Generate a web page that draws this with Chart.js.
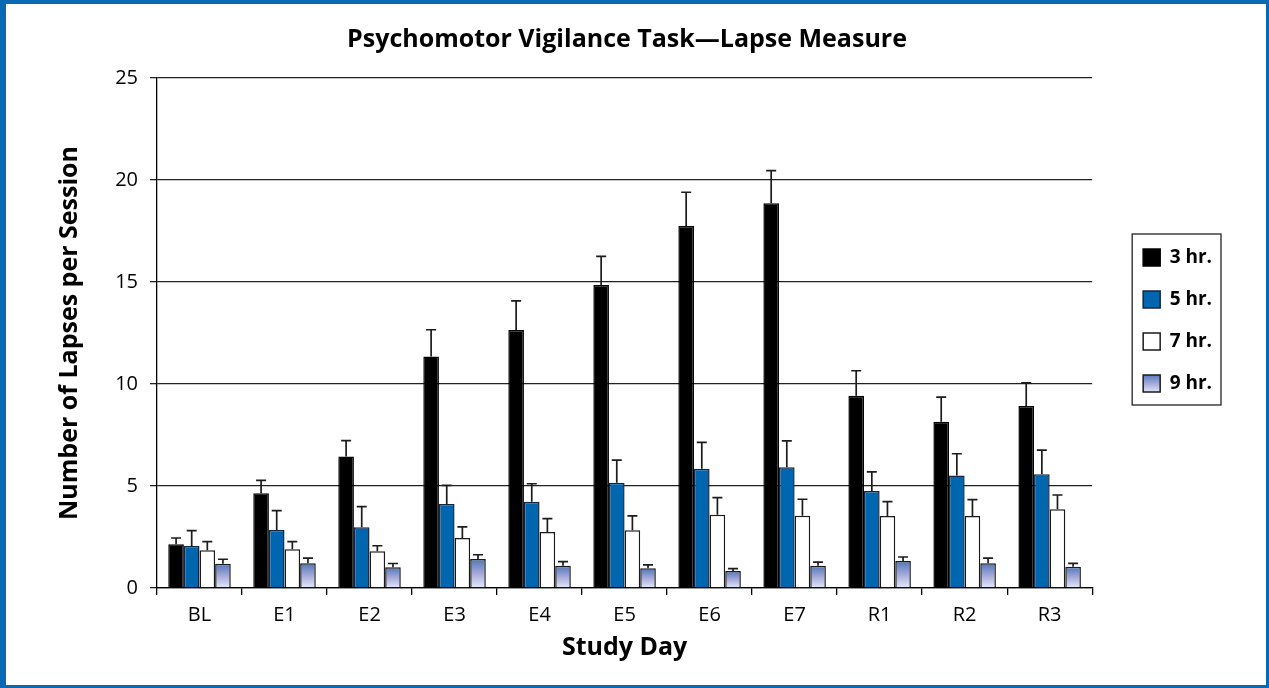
<!DOCTYPE html>
<html>
<head>
<meta charset="utf-8">
<script src="https://cdn.jsdelivr.net/npm/chart.js@4.4.0/dist/chart.umd.min.js"></script>
<style>
  html, body { margin: 0; padding: 0; background: #fff; }
  #frame {
    position: absolute; left: 0; top: 0;
    width: 1260px; height: 681px;
    border-style: solid; border-color: #0a69b5;
    border-width: 4px 3px 3px 6px;
    background: #fff;
  }
  canvas { display: block; }
</style>
</head>
<body>
<div id="frame"><canvas id="pvtChart" width="1260" height="681"></canvas></div>
<script>
const days = ['BL', 'E1', 'E2', 'E3', 'E4', 'E5', 'E6', 'E7', 'R1', 'R2', 'R3'];
const seriesNames = ['3 hr.', '5 hr.', '7 hr.', '9 hr.'];

// mean lapses per session
const lapses3 = [2.15, 4.64, 6.44, 11.35, 12.65, 14.85, 17.75, 18.86, 9.43, 8.15, 8.92];
const lapses5 = [2.06, 2.84, 2.98, 4.12, 4.23, 5.16, 5.85, 5.92, 4.75, 5.51, 5.58];
const lapses7 = [1.85, 1.90, 1.80, 2.45, 2.75, 2.83, 3.59, 3.54, 3.53, 3.53, 3.86];
const lapses9 = [1.19, 1.21, 1.02, 1.42, 1.09, 0.97, 0.83, 1.09, 1.32, 1.21, 1.04];

// standard error (upper bar only)
const err3 = [0.30, 0.64, 0.78, 1.31, 1.42, 1.41, 1.65, 1.60, 1.22, 1.21, 1.14];
const err5 = [0.75, 0.95, 1.01, 0.91, 0.88, 1.11, 1.29, 1.29, 0.94, 1.07, 1.18];
const err7 = [0.42, 0.37, 0.27, 0.55, 0.65, 0.71, 0.84, 0.81, 0.70, 0.80, 0.70];
const err9 = [0.22, 0.25, 0.18, 0.21, 0.20, 0.16, 0.12, 0.18, 0.20, 0.25, 0.17];

const yTicks = [0, 5, 10, 15, 20, 25];

const FONT = "'Open Sans', 'Noto Sans', sans-serif";

function nineFill(c) {
    const chart = c.chart;
    if (c.type !== 'data' || !chart.chartArea || !c.parsed) return '#9ea9da';
    const y = chart.scales.y;
    const top = y.getPixelForValue(c.parsed.y);
    const base = y.getPixelForValue(0);
    const g = chart.ctx.createLinearGradient(0, top, 0, base);
    g.addColorStop(0, '#4f76bb');
    g.addColorStop(0.5, '#a6a9d9');
    g.addColorStop(1, '#e3eafc');
    return g;
}

const errorBars = {
    id: 'errorBars',
    afterDatasetsDraw(chart) {
        const ctx = chart.ctx;
        const y = chart.scales.y;
        ctx.save();
        ctx.strokeStyle = '#1c1c1c';
        ctx.lineWidth = 1.7;
        chart.data.datasets.forEach((ds, i) => {
            const meta = chart.getDatasetMeta(i);
            meta.data.forEach((bar, j) => {
                const yTop = y.getPixelForValue(ds.data[j] + ds.errors[j]);
                ctx.beginPath();
                ctx.moveTo(bar.x, bar.y);
                ctx.lineTo(bar.x, yTop);
                ctx.moveTo(bar.x - 5, yTop);
                ctx.lineTo(bar.x + 5, yTop);
                ctx.stroke();
            });
        });
        ctx.restore();
    }
};

// legend sits away from the plot, in a box
const legendFrame = {
    id: 'legendFrame',
    afterLayout(chart) {
        const lg = chart.legend;
        lg.left += 28; lg.right += 28;
        lg.top -= 24; lg.bottom -= 24;
    },
    beforeDraw(chart) {
        const lg = chart.legend;
        const hb = lg.legendHitBoxes[3];
        if (!hb) return;
        const g = chart.ctx.createLinearGradient(0, hb.top, 0, hb.top + hb.height);
        g.addColorStop(0, '#4f76bb');
        g.addColorStop(0.5, '#a6a9d9');
        g.addColorStop(1, '#e3eafc');
        lg.legendItems[3].fillStyle = g;
    },
    afterDraw(chart) {
        const lg = chart.legend;
        const boxes = lg.legendHitBoxes;
        if (!boxes.length) return;
        const x0 = Math.min(...boxes.map(b => b.left)) - 11;
        const x1 = Math.max(...boxes.map(b => b.left + b.width)) + 9;
        const y0 = boxes[0].top - 14;
        const y1 = boxes[boxes.length - 1].top + boxes[boxes.length - 1].height + 12;
        const ctx = chart.ctx;
        ctx.save();
        ctx.strokeStyle = '#222';
        ctx.lineWidth = 1.3;
        ctx.strokeRect(x0, y0, x1 - x0, y1 - y0);
        ctx.restore();
    }
};

const ctx = document.getElementById('pvtChart').getContext('2d');
new Chart(ctx, {
    type: 'bar',
    data: {
        labels: days,
        datasets: [
            { label: seriesNames[0], data: lapses3, errors: err3, backgroundColor: '#000000', borderColor: '#000000' },
            { label: seriesNames[1], data: lapses5, errors: err5, backgroundColor: '#0066b0', borderColor: '#15253f' },
            { label: seriesNames[2], data: lapses7, errors: err7, backgroundColor: '#ffffff', borderColor: '#1a1a1a' },
            { label: seriesNames[3], data: lapses9, errors: err9, backgroundColor: nineFill, borderColor: '#1a1a1a' }
        ]
    },
    options: {
        responsive: false,
        animation: false,
        devicePixelRatio: 1,
        datasets: {
            bar: { borderWidth: 1.5, barPercentage: 1, categoryPercentage: 0.735 }
        },
        layout: { padding: { left: 54, right: 72, top: 0, bottom: 0 } },
        plugins: {
            title: {
                display: true,
                text: 'Psychomotor Vigilance Task\u2014Lapse Measure',
                color: '#000',
                font: { family: FONT, size: 25, weight: 'bold' },
                padding: { top: 21, bottom: 23 }
            },
            legend: {
                position: 'right',
                labels: {
                    color: '#000',
                    font: { family: FONT, size: 19, weight: 'bold' },
                    boxWidth: 17,
                    boxHeight: 17,
                    padding: 23
                }
            },
            tooltip: { enabled: false }
        },
        scales: {
            x: {
                afterFit(scale) { scale.height = 97; },
                grid: { display: true, drawOnChartArea: false, tickLength: 7, color: '#000', lineWidth: 1.3 },
                border: { color: '#000', width: 1.3 },
                ticks: { color: '#000', padding: 8, font: { family: FONT, size: 20 } },
                title: {
                    display: true, text: 'Study Day', color: '#000',
                    font: { family: FONT, size: 25, weight: 'bold' },
                    padding: { top: 0, bottom: 22 }
                }
            },
            y: {
                min: 0, max: 25,
                afterFit(scale) { scale.width = 97; },
                afterBuildTicks(scale) { scale.ticks = yTicks.map(v => ({ value: v })); },
                grid: { color: '#222', lineWidth: 1.3, tickLength: 7 },
                border: { color: '#000', width: 1.3 },
                ticks: { color: '#000', padding: 12, font: { family: FONT, size: 20 } },
                title: {
                    display: true, text: 'Number of Lapses per Session', color: '#000',
                    font: { family: FONT, size: 25, weight: 'bold' },
                    padding: { top: -5, bottom: 0 }
                }
            }
        }
    },
    plugins: [errorBars, legendFrame]
});
</script>
</body>
</html>
